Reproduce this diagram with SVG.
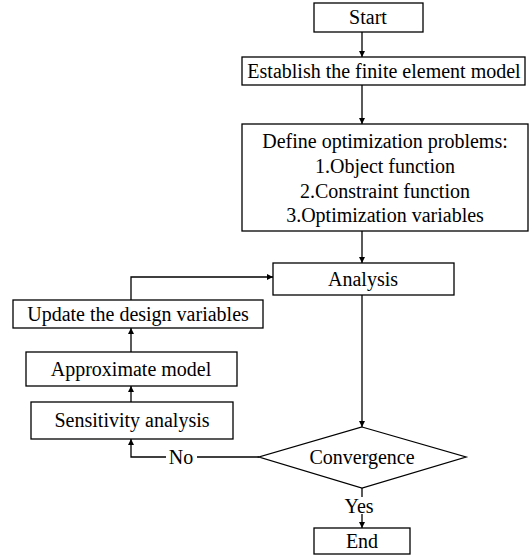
<svg xmlns="http://www.w3.org/2000/svg" width="532" height="556" viewBox="0 0 532 556">
<defs>
<style>
.box{fill:#fff;stroke:#000;stroke-width:1.3}
.t{font-family:"Liberation Serif","Times New Roman",serif;font-size:20px;fill:#000;text-anchor:middle}
.ln{fill:none;stroke:#000;stroke-width:1.3}
</style>
<marker id="ah" viewBox="0 0 10 10" refX="10" refY="5" markerWidth="6" markerHeight="8" markerUnits="userSpaceOnUse" orient="auto">
<path d="M0,0 L10,5 L0,10 Z" fill="#000"/>
</marker>
</defs>
<rect width="532" height="556" fill="#fff"/>
<g id="connectors">
<line class="ln" x1="362" y1="32" x2="362" y2="57" marker-end="url(#ah)"/>
<line class="ln" x1="362" y1="85" x2="362" y2="124" marker-end="url(#ah)"/>
<line class="ln" x1="362" y1="231" x2="362" y2="263" marker-end="url(#ah)"/>
<line class="ln" x1="362" y1="295" x2="362" y2="427" marker-end="url(#ah)"/>
<line class="ln" x1="362" y1="488" x2="362" y2="497"/>
<line class="ln" x1="362" y1="514" x2="362" y2="528" marker-end="url(#ah)"/>
<polyline class="ln" points="259,457 197,457"/>
<polyline class="ln" points="166,457 131,457 131,439" marker-end="url(#ah)"/>
<line class="ln" x1="131" y1="402" x2="131" y2="386" marker-end="url(#ah)"/>
<line class="ln" x1="131" y1="352" x2="131" y2="328" marker-end="url(#ah)"/>
<polyline class="ln" points="131,300 131,277 273,277" marker-end="url(#ah)"/>
<text class="t" x="181" y="464">No</text>
<text class="t" x="359" y="513">Yes</text>
</g>
<g id="start">
<rect class="box" x="314" y="3" width="109" height="29"/>
<text class="t" x="368" y="24">Start</text>
</g>
<g id="establish">
<rect class="box" x="242" y="57" width="283" height="28"/>
<text class="t" x="384" y="78">Establish the finite element model</text>
</g>
<g id="define">
<rect class="box" x="242" y="124" width="286" height="107"/>
<text class="t" x="385" y="148">Define optimization problems:</text>
<text class="t" x="385" y="173">1.Object function</text>
<text class="t" x="385" y="198">2.Constraint function</text>
<text class="t" x="385" y="222">3.Optimization variables</text>
</g>
<g id="analysis">
<rect class="box" x="273" y="263" width="181" height="32"/>
<text class="t" x="363" y="286">Analysis</text>
</g>
<g id="update">
<rect class="box" x="13" y="300" width="250" height="28"/>
<text class="t" x="138" y="321">Update the design variables</text>
</g>
<g id="approx">
<rect class="box" x="26" y="352" width="211" height="34"/>
<text class="t" x="131" y="376">Approximate model</text>
</g>
<g id="sensitivity">
<rect class="box" x="31" y="402" width="202" height="37"/>
<text class="t" x="132" y="427">Sensitivity analysis</text>
</g>
<g id="convergence">
<polygon class="box" points="362,427 466,457 362,488 259,457"/>
<text class="t" x="362" y="464">Convergence</text>
</g>
<g id="end">
<rect class="box" x="314" y="528" width="96" height="26"/>
<text class="t" x="362" y="548">End</text>
</g>
</svg>
